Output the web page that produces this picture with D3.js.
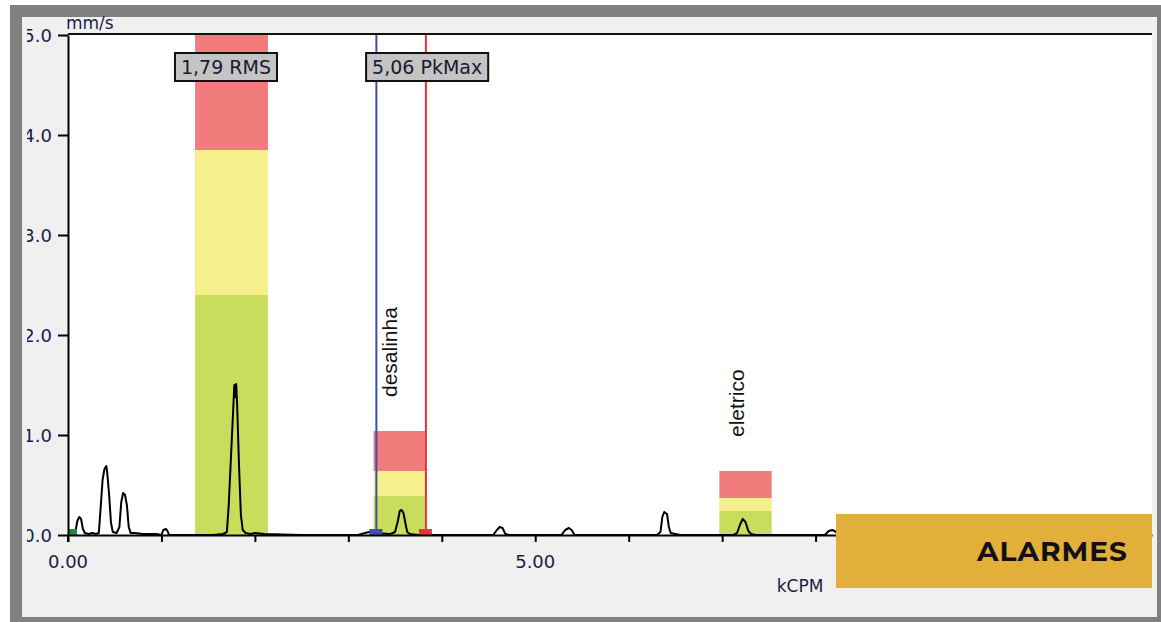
<!DOCTYPE html>
<html>
<head>
<meta charset="utf-8">
<script src="https://cdn.jsdelivr.net/npm/d3@7"></script>
<style>
  body { margin: 0; background: #fff; }
  svg { display: block; }
</style>
</head>
<body>
<svg id="chart"></svg>
<script>
// axis ticks
const yTicks = [0, 1, 2, 3, 4, 5];
const yTickLabels = ['0.0', '1.0', '2.0', '3.0', '4.0', '5.0'];
const xTicks = [0, 1, 2, 3, 4, 5, 6, 7, 8, 9, 10, 11];
const xLabelValues = [0, 5];
const xLabelText = ['0.00', '5.00'];

// alarm bands (kCPM / mm/s)
const bandNames = ['', 'desalinha', 'eletrico'];
const bandStart = [1.36, 3.27, 6.97];
const bandEnd = [2.14, 3.82, 7.53];
const greenTop = [2.4, 0.39, 0.24];
const yellowTop = [3.85, 0.64, 0.37];
const redTop = [5.0, 1.04, 0.64];

// cursors
const cursorValues = [3.30, 3.83];
const cursorColors = ['#3d4fae', '#e8323a'];
const boxTexts = ['1,79 RMS', '5,06 PkMax'];
const boxX = [1.145, 3.19];

// spectrum
const specX = [0.00, 0.05, 0.08, 0.10, 0.12, 0.14, 0.16, 0.18, 0.22, 0.26, 0.30, 0.33, 0.35, 0.37, 0.39, 0.41, 0.42, 0.44, 0.46, 0.48,
  0.52, 0.55, 0.57, 0.59, 0.61, 0.63, 0.65, 0.67, 0.72, 0.80, 0.95, 1.00, 1.02, 1.05, 1.07, 1.08, 1.20, 1.55, 1.66, 1.70,
  1.72, 1.74, 1.76, 1.78, 1.79, 1.80, 1.81, 1.83, 1.85, 1.87, 1.90, 1.95, 2.00, 2.10, 2.50, 3.10, 3.18, 3.22, 3.26, 3.45,
  3.50, 3.53, 3.55, 3.57, 3.59, 3.61, 3.63, 3.66, 3.75, 4.55, 4.59, 4.62, 4.65, 4.68, 4.72, 5.28, 5.32, 5.36, 5.39, 5.42,
  6.30, 6.34, 6.36, 6.38, 6.41, 6.43, 6.45, 6.50, 6.55, 7.12, 7.16, 7.19, 7.22, 7.25, 7.28, 7.31, 7.36, 8.10, 8.14, 8.18,
  8.22, 8.25, 11.6];
const specY = [0.02, 0.02, 0.04, 0.14, 0.18, 0.16, 0.06, 0.02, 0.01, 0.02, 0.01, 0.02, 0.28, 0.55, 0.66, 0.69, 0.62, 0.40, 0.12, 0.03,
  0.02, 0.08, 0.33, 0.42, 0.40, 0.30, 0.08, 0.02, 0.02, 0.01, 0.01, 0.00, 0.05, 0.06, 0.03, 0.00, 0.00, 0.00, 0.01, 0.03,
  0.30, 0.70, 1.10, 1.50, 1.38, 1.51, 1.30, 0.70, 0.20, 0.05, 0.02, 0.01, 0.02, 0.01, 0.00, 0.00, 0.02, 0.03, 0.02, 0.01,
  0.03, 0.14, 0.24, 0.25, 0.22, 0.12, 0.03, 0.01, 0.00, 0.00, 0.05, 0.08, 0.07, 0.01, 0.00, 0.00, 0.05, 0.07, 0.05, 0.00,
  0.00, 0.03, 0.18, 0.23, 0.21, 0.08, 0.02, 0.01, 0.00, 0.00, 0.02, 0.10, 0.16, 0.13, 0.04, 0.01, 0.00, 0.00, 0.04, 0.05,
  0.03, 0.00, 0.00];

const width = 1161;
const height = 622;
const plot = { left: 68, right: 1152, top: 34, bottom: 535 };

const svg = d3.select('#chart')
    .attr('width', width)
    .attr('height', height);

// window frame
svg.append('rect')
    .attr('x', 10).attr('y', 5)
    .attr('width', width - 10).attr('height', height - 5)
    .attr('fill', '#808080');
svg.append('rect')
    .attr('x', 22).attr('y', 17)
    .attr('width', 1135).attr('height', 600)
    .attr('fill', '#f0f0f0');
svg.append('rect')
    .attr('x', plot.left).attr('y', plot.top)
    .attr('width', plot.right - plot.left).attr('height', plot.bottom - plot.top)
    .attr('fill', '#fff');

const xScale = d3.scaleLinear()
    .domain([0, 11.6])
    .range([plot.left, plot.right]);

const yScale = d3.scaleLinear()
    .domain([0, 5])
    .range([plot.bottom, plot.top + 1]);

svg.append('defs').append('clipPath')
    .attr('id', 'plot-clip')
    .append('rect')
    .attr('x', plot.left).attr('y', plot.top)
    .attr('width', plot.right - plot.left).attr('height', plot.bottom - plot.top);

svg.append('defs').append('clipPath')
    .attr('id', 'ylab-clip')
    .append('rect')
    .attr('x', 27).attr('y', 0)
    .attr('width', 40).attr('height', height);

const inner = svg.append('g').attr('clip-path', 'url(#plot-clip)');

// alarm bands
bandNames.forEach((name, i) => {
    const x0 = xScale(bandStart[i]);
    const w = xScale(bandEnd[i]) - x0;
    const layers = [
        [0, greenTop[i], '#c9dc5c'],
        [greenTop[i], yellowTop[i], '#f6f08c'],
        [yellowTop[i], redTop[i], '#f27c7c']
    ];
    layers.forEach(l => {
        inner.append('rect')
            .attr('x', x0)
            .attr('y', yScale(l[1]))
            .attr('width', w)
            .attr('height', yScale(l[0]) - yScale(l[1]))
            .attr('fill', l[2]);
    });
    if (name) {
        svg.append('text')
            .attr('transform', `translate(${(x0 + w / 2) - 2}, ${yScale(redTop[i]) - 34}) rotate(-90)`)
            .attr('font-family', 'Liberation Sans, Arial, sans-serif')
            .attr('font-size', '21px')
            .attr('fill', '#111')
            .text(name);
    }
});

// cursors
cursorValues.forEach((v, i) => {
    inner.append('line')
        .attr('x1', xScale(v)).attr('x2', xScale(v))
        .attr('y1', plot.top).attr('y2', plot.bottom)
        .attr('stroke', cursorColors[i])
        .attr('stroke-width', 2);
});

// spectrum
const line = d3.line()
    .x((d, i) => xScale(specX[i]))
    .y(d => yScale(d));

inner.append('path')
    .datum(specY)
    .attr('fill', 'none')
    .attr('stroke', '#000')
    .attr('stroke-width', 2)
    .attr('stroke-linejoin', 'round')
    .attr('d', line);

// cursor markers
cursorValues.forEach((v, i) => {
    svg.append('rect')
        .attr('x', xScale(v) - 7).attr('y', plot.bottom - 6)
        .attr('width', 13).attr('height', 6)
        .attr('fill', cursorColors[i]);
});
svg.append('rect')
    .attr('x', plot.left + 1).attr('y', plot.bottom - 6)
    .attr('width', 8).attr('height', 6)
    .attr('fill', '#1f8a3c');

// axes
const xAxis = d3.axisBottom(xScale)
    .tickValues(xTicks)
    .tickSize(7)
    .tickSizeOuter(0)
    .tickFormat('');

svg.append('g')
    .attr('transform', `translate(0, ${plot.bottom})`)
    .call(xAxis)
    .call(g => g.select('.domain').attr('stroke', '#000').attr('stroke-width', 2))
    .call(g => g.selectAll('.tick line').attr('stroke', '#000').attr('stroke-width', 2));

const yAxis = d3.axisLeft(yScale)
    .tickValues(yTicks)
    .tickSize(10)
    .tickSizeOuter(0)
    .tickFormat('');

svg.append('g')
    .attr('transform', `translate(${plot.left}, 0)`)
    .call(yAxis)
    .call(g => g.select('.domain').attr('stroke', '#000').attr('stroke-width', 2))
    .call(g => g.selectAll('.tick line').attr('stroke', '#000').attr('stroke-width', 2));

svg.append('line')
    .attr('x1', plot.left).attr('x2', plot.left)
    .attr('y1', plot.bottom).attr('y2', plot.bottom + 7)
    .attr('stroke', '#000').attr('stroke-width', 2);

// top frame line
svg.append('line')
    .attr('x1', plot.left).attr('x2', plot.right)
    .attr('y1', plot.top).attr('y2', plot.top)
    .attr('stroke', '#111').attr('stroke-width', 2);

// tick labels
svg.append('g')
    .attr('clip-path', 'url(#ylab-clip)')
    .selectAll('text')
    .data(yTicks)
    .join('text')
    .attr('x', 52)
    .attr('y', d => yScale(d))
    .attr('dy', '0.38em')
    .attr('text-anchor', 'end')
    .attr('font-family', 'DejaVu Sans, Verdana, sans-serif')
    .attr('font-size', '18px')
    .attr('fill', '#1c1c50')
    .text((d, i) => yTickLabels[i]);

svg.append('g')
    .selectAll('text')
    .data(xLabelValues)
    .join('text')
    .attr('x', d => xScale(d))
    .attr('y', 568)
    .attr('text-anchor', 'middle')
    .attr('font-family', 'DejaVu Sans, Verdana, sans-serif')
    .attr('font-size', '18px')
    .attr('fill', '#1c1c40')
    .text((d, i) => xLabelText[i]);

svg.append('text')
    .attr('x', 800).attr('y', 592)
    .attr('text-anchor', 'middle')
    .attr('font-family', 'DejaVu Sans, Verdana, sans-serif')
    .attr('font-size', '17px')
    .attr('fill', '#1c1c40')
    .text('kCPM');

svg.append('text')
    .attr('x', 66).attr('y', 29)
    .attr('font-family', 'DejaVu Sans, Verdana, sans-serif')
    .attr('font-size', '17px')
    .attr('fill', '#1c1c50')
    .text('mm/s');

// value boxes
boxTexts.forEach((t, i) => {
    const g = svg.append('g');
    const txt = g.append('text')
        .attr('x', xScale(boxX[i]) + 6).attr('y', 74)
        .attr('font-family', 'DejaVu Sans, Verdana, sans-serif')
        .attr('font-size', '19px')
        .attr('fill', '#1a1a30')
        .text(t);
    const w = txt.node().getComputedTextLength();
    g.insert('rect', 'text')
        .attr('x', xScale(boxX[i])).attr('y', 53)
        .attr('width', w + 12).attr('height', 28)
        .attr('fill', '#c4c4c4')
        .attr('stroke', '#111')
        .attr('stroke-width', 2);
});

// ALARMES badge
svg.append('rect')
    .attr('x', 836).attr('y', 514)
    .attr('width', 316).attr('height', 74)
    .attr('fill', '#e2b03a');
svg.append('text')
    .attr('x', 1128).attr('y', 561)
    .attr('text-anchor', 'end')
    .attr('font-family', 'Montserrat, Noto Sans, Liberation Sans, sans-serif')
    .attr('font-weight', 'bold')
    .attr('font-size', '28px')
    .attr('letter-spacing', '1px')
    .attr('fill', '#111')
    .text('ALARMES');
</script>
</body>
</html>
